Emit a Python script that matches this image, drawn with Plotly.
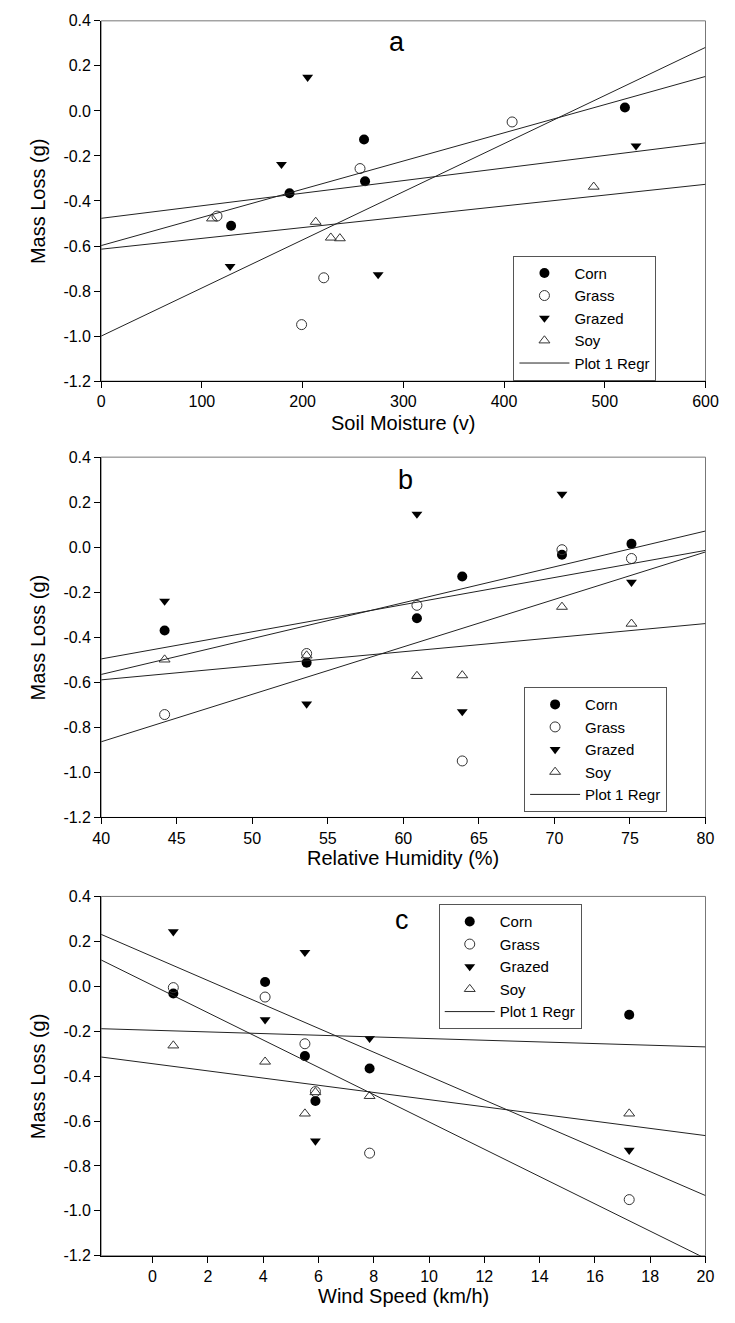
import plotly.graph_objects as go

W, H = 735, 1323

# ---------------- data ----------------
# Panel a: Soil Moisture (v)
corn_a_x = [129, 187, 261, 262, 520]
corn_a_y = [-0.51, -0.366, -0.127, -0.312, 0.015]
grass_a_x = [115, 257, 221, 199, 408]
grass_a_y = [-0.467, -0.256, -0.741, -0.949, -0.049]
grazed_a_x = [205, 179, 128, 275, 531]
grazed_a_y = [0.15, -0.237, -0.69, -0.727, -0.155]
soy_a_x = [110, 213, 228, 237, 489]
soy_a_y = [-0.478, -0.493, -0.563, -0.566, -0.337]
reg_a_x = [0, 600]
reg_a_start = [-0.477, -0.598, -0.614, -1.0]
reg_a_end = [-0.142, 0.153, -0.326, 0.282]

# Panel b: Relative Humidity (%)
rh_x = [44.2, 53.6, 60.9, 63.9, 70.5, 75.1]
corn_b_y = [-0.370, -0.513, -0.315, -0.130, -0.033, 0.015]
grass_b_y = [-0.743, -0.472, -0.258, -0.949, -0.011, -0.050]
grazed_b_y = [-0.239, -0.696, 0.147, -0.730, 0.236, -0.155]
soy_b_y = [-0.499, -0.481, -0.572, -0.569, -0.265, -0.340]
reg_b_x = [40, 80]
reg_b_start = [-0.496, -0.565, -0.589, -0.864]
reg_b_end = [-0.014, 0.072, -0.339, -0.021]

# Panel c: Wind Speed (km/h)
ws_x = [0.75, 4.07, 5.51, 5.89, 7.85, 17.24]
corn_c_y = [-0.032, 0.019, -0.311, -0.511, -0.366, -0.127]
grass_c_y = [-0.006, -0.048, -0.256, -0.469, -0.743, -0.950]
grazed_c_y = [0.243, -0.149, 0.151, -0.689, -0.232, -0.730]
soy_c_y = [-0.264, -0.336, -0.567, -0.472, -0.489, -0.567]
reg_c_x = [-1.86, 20]
reg_c_start = [0.231, 0.117, -0.189, -0.315]
reg_c_end = [-0.932, -1.212, -0.270, -0.665]

y_tickvals = [-1.2, -1.0, -0.8, -0.6, -0.4, -0.2, 0.0, 0.2, 0.4]
y_ticktext = ["-1.2", "-1.0", "-0.8", "-0.6", "-0.4", "-0.2", "0.0", "0.2", "0.4"]
xa_ticks = [0, 100, 200, 300, 400, 500, 600]
xb_ticks = [40, 45, 50, 55, 60, 65, 70, 75, 80]
xc_ticks = [0, 2, 4, 6, 8, 10, 12, 14, 16, 18, 20]

series_names = ["Corn", "Grass", "Grazed", "Soy"]
x_titles = ["Soil Moisture (v)", "Relative Humidity (%)", "Wind Speed (km/h)"]
panel_letters = ["a", "b", "c"]

# ---------------- styling ----------------
FONT = "Arial, Liberation Sans, sans-serif"
markers = {
    "Corn": dict(symbol="circle", size=10, color="black"),
    "Grass": dict(symbol="circle-open", size=10, color="#333", line=dict(width=1, color="#333")),
    "Grazed": dict(symbol="triangle-down", size=9.5, color="black"),
    "Soy": dict(symbol="triangle-up-open", size=9.5, color="#333", line=dict(width=1, color="#333")),
}

def px_x(p):
    return p / W

def px_y(p):
    return 1 - p / H

x_dom = [px_x(95), px_x(718)]
panels_px = [(13, 378), (455, 820), (900, 1264)]

fig = go.Figure()

panel_data = [
    (
        [(corn_a_x, corn_a_y), (grass_a_x, grass_a_y), (grazed_a_x, grazed_a_y), (soy_a_x, soy_a_y)],
        reg_a_x, reg_a_start, reg_a_end,
    ),
    (
        [(rh_x, corn_b_y), (rh_x, grass_b_y), (rh_x, grazed_b_y), (rh_x, soy_b_y)],
        reg_b_x, reg_b_start, reg_b_end,
    ),
    (
        [(ws_x, corn_c_y), (ws_x, grass_c_y), (ws_x, grazed_c_y), (ws_x, soy_c_y)],
        reg_c_x, reg_c_start, reg_c_end,
    ),
]

legend_names = ["legend", "legend2", "legend3"]
for i, (series, rx, rs, re_) in enumerate(panel_data):
    xa = "x" if i == 0 else f"x{i+1}"
    ya = "y" if i == 0 else f"y{i+1}"
    for name, (xs, ys) in zip(series_names, series):
        fig.add_trace(go.Scatter(
            x=xs, y=ys, mode="markers", name=name, marker=markers[name],
            xaxis=xa, yaxis=ya, legend=legend_names[i], cliponaxis=False,
        ))
    lx, ly = [], []
    for s, e in zip(rs, re_):
        lx += [rx[0], rx[1], None]
        ly += [s, e, None]
    fig.add_trace(go.Scatter(
        x=lx, y=ly, mode="lines", name="Plot 1 Regr",
        line=dict(color="#222", width=1), xaxis=xa, yaxis=ya, legend=legend_names[i],
    ))

axis_common = dict(
    showgrid=False, zeroline=False, showline=True, linecolor="black", linewidth=1,
    ticks="outside", ticklen=6, tickwidth=1, tickcolor="black",
    tickfont=dict(family=FONT, size=16, color="black"), mirror=False,
)

x_ranges = [[0, 600], [40, 80], [-1.86, 20]]
x_tickvals = [xa_ticks, xb_ticks, xc_ticks]

layout = dict(
    width=W, height=H, margin=dict(l=0, r=0, t=0, b=0),
    paper_bgcolor="white", plot_bgcolor="white",
    font=dict(family=FONT, color="black"),
)

for i, (top, bot) in enumerate(panels_px):
    xk = "xaxis" if i == 0 else f"xaxis{i+1}"
    yk = "yaxis" if i == 0 else f"yaxis{i+1}"
    ya = "y" if i == 0 else f"y{i+1}"
    xa = "x" if i == 0 else f"x{i+1}"
    layout[xk] = dict(axis_common, domain=x_dom, range=x_ranges[i], anchor=ya,
                      tickvals=x_tickvals[i], ticktext=[str(v) for v in x_tickvals[i]])
    layout[yk] = dict(axis_common, domain=[px_y(bot), px_y(top)], range=[-1.2, 0.4], anchor=xa,
                      tickvals=y_tickvals, ticktext=y_ticktext)

legend_pos = [(520, 251), (531, 688), (443, 908)]
for i, (lxp, lyp) in enumerate(legend_pos):
    layout[legend_names[i]] = dict(
        x=px_x(lxp), y=px_y(lyp), xanchor="left", yanchor="top",
        bgcolor="white", bordercolor="#555", borderwidth=1,
        font=dict(family=FONT, size=15, color="black"),
        itemwidth=50, tracegroupgap=0,
        entrywidth=100, entrywidthmode="pixels",
    )

fig.update_layout(**layout)

shapes = []
annotations = []
title_y_px = [420, 861, 1305]
letter_pos = [(400, 34), (409, 478), (405, 924)]
for i, (top, bot) in enumerate(panels_px):
    xa = "x" if i == 0 else f"x{i+1}"
    ya = "y" if i == 0 else f"y{i+1}"
    shapes.append(dict(type="rect", xref=f"{xa} domain", yref=f"{ya} domain",
                       x0=0, x1=1, y0=0, y1=1, line=dict(color="#777", width=1),
                       layer="below"))
    annotations.append(dict(text="Mass Loss (g)", x=px_x(30), y=px_y((top + bot) / 2),
                            xref="paper", yref="paper", showarrow=False, textangle=-90,
                            xanchor="center", yanchor="middle",
                            font=dict(family=FONT, size=20, color="black")))
    annotations.append(dict(text=x_titles[i], x=px_x(406.5), y=px_y(title_y_px[i]),
                            xref="paper", yref="paper", showarrow=False,
                            xanchor="center", yanchor="middle",
                            font=dict(family=FONT, size=20, color="black")))
    annotations.append(dict(text=panel_letters[i], x=px_x(letter_pos[i][0]),
                            y=px_y(letter_pos[i][1]), xref="paper", yref="paper",
                            showarrow=False, xanchor="center", yanchor="middle",
                            font=dict(family=FONT, size=27, color="black")))

fig.update_layout(shapes=shapes, annotations=annotations)
fig.write_html("out.html", config={"displayModeBar": False},
               post_script="document.body.style.margin='0px';")
